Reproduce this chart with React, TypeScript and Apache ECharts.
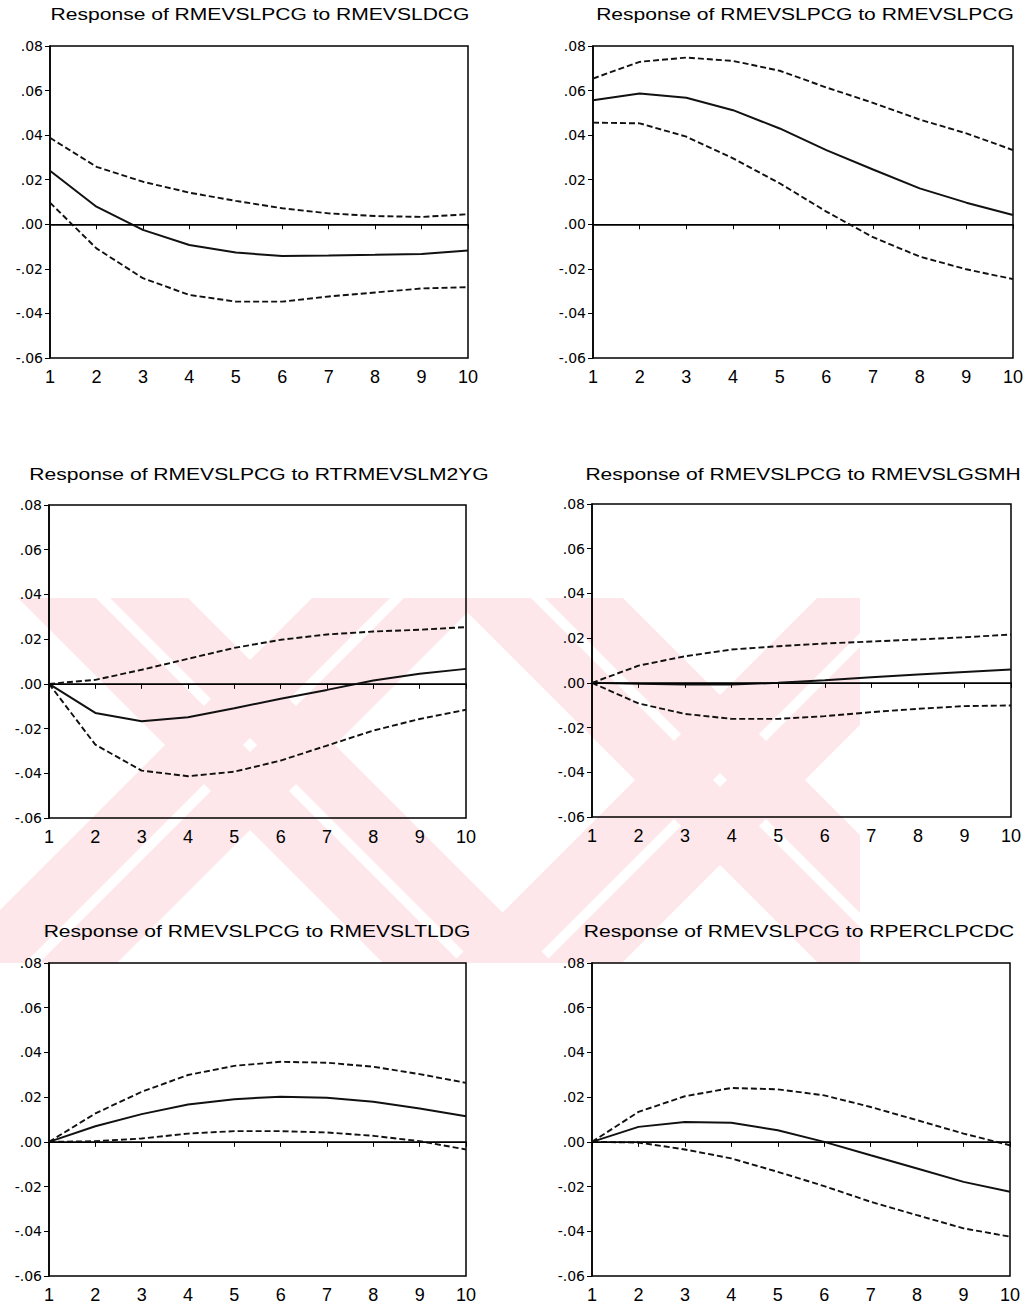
import React, { useEffect, useRef } from "react";
import * as echarts from "echarts";

// ---------- data ----------
const periods = ["1", "2", "3", "4", "5", "6", "7", "8", "9", "10"];
const yTickValues = [-0.06, -0.04, -0.02, 0, 0.02, 0.04, 0.06, 0.08];
const yTickLabels = ["-.06", "-.04", "-.02", ".00", ".02", ".04", ".06", ".08"];

const titles = [
  "Response of RMEVSLPCG to RMEVSLDCG",
  "Response of RMEVSLPCG to RMEVSLPCG",
  "Response of RMEVSLPCG to RTRMEVSLM2YG",
  "Response of RMEVSLPCG to RMEVSLGSMH",
  "Response of RMEVSLPCG to RMEVSLTLDG",
  "Response of RMEVSLPCG to RPERCLPCDC",
];

const respDCG = [0.024, 0.0079, -0.0025, -0.0093, -0.0127, -0.0142, -0.014, -0.0137, -0.0133, -0.0118];
const upperDCG = [0.0388, 0.0258, 0.0191, 0.0142, 0.0105, 0.0072, 0.0049, 0.0037, 0.0033, 0.0045];
const lowerDCG = [0.0097, -0.0108, -0.0242, -0.0317, -0.0347, -0.0347, -0.0324, -0.0306, -0.0288, -0.0282];

const respPCG = [0.0557, 0.0587, 0.0568, 0.0512, 0.043, 0.0333, 0.0246, 0.0161, 0.0097, 0.0042];
const upperPCG = [0.0654, 0.0729, 0.0748, 0.0733, 0.0689, 0.0614, 0.0545, 0.047, 0.0408, 0.0333];
const lowerPCG = [0.0456, 0.0453, 0.0393, 0.0296, 0.0184, 0.0057, -0.0058, -0.0145, -0.0202, -0.0246];

const respM2YG = [0, -0.013, -0.0167, -0.0149, -0.0109, -0.0067, -0.0027, 0.0015, 0.0045, 0.0067];
const upperM2YG = [0, 0.0018, 0.0063, 0.0112, 0.0161, 0.0197, 0.0221, 0.0234, 0.0242, 0.0254];
const lowerM2YG = [0, -0.0272, -0.0388, -0.0413, -0.0393, -0.0343, -0.0276, -0.0209, -0.0157, -0.0116];

const respGSMH = [0, -0.0004, -0.0007, -0.0007, 0, 0.0012, 0.0025, 0.0037, 0.0049, 0.006];
const upperGSMH = [0, 0.0077, 0.0119, 0.0149, 0.0164, 0.0176, 0.0185, 0.0194, 0.0204, 0.0216];
const lowerGSMH = [0, -0.0092, -0.0139, -0.0161, -0.0161, -0.0149, -0.0131, -0.0116, -0.0104, -0.0101];

const respTLDG = [0, 0.007, 0.0124, 0.0167, 0.0191, 0.0202, 0.0197, 0.0179, 0.0149, 0.0115];
const upperTLDG = [0, 0.0127, 0.0224, 0.0299, 0.034, 0.0358, 0.0354, 0.0336, 0.0303, 0.0264];
const lowerTLDG = [0, 0.0003, 0.0015, 0.0037, 0.0048, 0.0048, 0.0042, 0.0027, 0.0003, -0.0034];

const respPCDC = [0, 0.0067, 0.0089, 0.0085, 0.0052, 0.0, -0.006, -0.0119, -0.0179, -0.0223];
const upperPCDC = [0, 0.0134, 0.0204, 0.0241, 0.0235, 0.0208, 0.0156, 0.0097, 0.0037, -0.0015];
const lowerPCDC = [0, -0.0003, -0.0034, -0.0074, -0.0134, -0.0198, -0.0268, -0.0328, -0.0387, -0.0424];

const panels = [
  { resp: respDCG, upper: upperDCG, lower: lowerDCG },
  { resp: respPCG, upper: upperPCG, lower: lowerPCG },
  { resp: respM2YG, upper: upperM2YG, lower: lowerM2YG },
  { resp: respGSMH, upper: upperGSMH, lower: lowerGSMH },
  { resp: respTLDG, upper: upperTLDG, lower: lowerTLDG },
  { resp: respPCDC, upper: upperPCDC, lower: lowerPCDC },
];

// ---------- layout ----------
const grids = [
  { left: 50, top: 46, width: 418, height: 312 },
  { left: 593, top: 46, width: 420, height: 312 },
  { left: 49, top: 505, width: 417, height: 313 },
  { left: 592, top: 504, width: 419, height: 313 },
  { left: 49, top: 963, width: 417, height: 313 },
  { left: 592, top: 963, width: 418, height: 313 },
];
const titlePos = [
  { x: 260, y: 14 },
  { x: 805, y: 14 },
  { x: 259, y: 474 },
  { x: 803, y: 474 },
  { x: 257, y: 931 },
  { x: 799, y: 931 },
];

// light background watermark: striped X shapes (decoration only)
const WM_TOP = 598;
const WM_BOT = 963;
const WM_LEFT = 0;
const WM_RIGHT = 860;
const stripe = (cx: number, cy: number, d: number, w: number, dir: number) => {
  const xAt = (y: number, off: number) => cx + off + dir * (y - cy);
  return [
    [xAt(WM_TOP, d), WM_TOP],
    [xAt(WM_TOP, d + w), WM_TOP],
    [xAt(WM_BOT, d + w), WM_BOT],
    [xAt(WM_BOT, d), WM_BOT],
  ];
};
const clipX = (pts: number[][], xl: number, keepLess: boolean) => {
  const out: number[][] = [];
  const inside = (p: number[]) => (keepLess ? p[0] <= xl : p[0] >= xl);
  for (let i = 0; i < pts.length; i++) {
    const a = pts[i];
    const b = pts[(i + 1) % pts.length];
    const ia = inside(a);
    const ib = inside(b);
    if (ia) out.push(a);
    if (ia !== ib) {
      const t = (xl - a[0]) / (b[0] - a[0]);
      out.push([xl, a[1] + t * (b[1] - a[1])]);
    }
  }
  return out;
};

const yLabel = (v: number) => {
  let best = 0;
  for (let i = 0; i < yTickValues.length; i++) {
    if (Math.abs(yTickValues[i] - v) < Math.abs(yTickValues[best] - v)) best = i;
  }
  return yTickLabels[best];
};

export default function App() {
  const ref = useRef<HTMLDivElement>(null);
  useEffect(() => {
    if (!ref.current) return;
    const chart = echarts.init(ref.current, undefined, { renderer: "svg" });
    const lineColor = "#111";
    const wmColor = "#fde7eb";
    const wm: any[] = [];
    const centers = [
      [250, 745],
      [720, 780],
    ];
    centers.forEach(([cx, cy]) => {
      [-85, 7].forEach((d) => {
        [1, -1].forEach((dir) => {
          let pts = stripe(cx, cy, d, 78, dir);
          pts = clipX(pts, WM_RIGHT, true);
          pts = clipX(pts, WM_LEFT, false);
          if (pts.length >= 3) {
            wm.push({
              type: "polygon",
              z: -10,
              silent: true,
              shape: { points: pts },
              style: { fill: wmColor },
            });
          }
        });
      });
    });
    const option: any = {
      animation: false,
      backgroundColor: "#fff",
      grid: grids.map((g) => ({
        ...g,
        show: true,
        borderColor: "#000",
        borderWidth: 1.5,
        backgroundColor: "transparent",
      })),
      xAxis: grids.map((_, i) => ({
        type: "category",
        gridIndex: i,
        data: periods,
        boundaryGap: false,
        axisLine: { show: true, lineStyle: { color: "#000", width: 1.5 } },
        axisTick: { show: true, length: 5, inside: false, lineStyle: { color: "#000", width: 1 } },
        axisLabel: {
          color: "#000",
          fontSize: 18,
          fontFamily: "'Liberation Sans', Arial, sans-serif",
          margin: 10,
          interval: 0,
        },
        splitLine: { show: false },
      })),
      yAxis: grids.map((_, i) => ({
        type: "value",
        gridIndex: i,
        min: -0.06,
        max: 0.08,
        interval: 0.02,
        axisLine: { show: true, lineStyle: { color: "#000", width: 1.5 } },
        axisTick: { show: true, length: 5, inside: false, lineStyle: { color: "#000", width: 1 } },
        axisLabel: {
          color: "#000",
          fontSize: 14,
          fontFamily: "'DejaVu Sans', sans-serif",
          margin: 7,
          formatter: (v: number) => yLabel(v),
        },
        splitLine: { show: false },
      })),
      graphic: [
        ...wm,
        ...titles.map((t, i) => ({
          type: "text",
          x: titlePos[i].x,
          y: titlePos[i].y,
          scaleX: 1.24,
          z: 100,
          style: {
            text: t,
            fontSize: 17,
            fontFamily: "'Liberation Sans', Arial, sans-serif",
            fill: "#000",
            align: "center",
            verticalAlign: "middle",
          },
        })),
      ],
      series: panels.flatMap((p, i) => [
        {
          type: "line",
          xAxisIndex: i,
          yAxisIndex: i,
          data: p.upper,
          symbol: "none",
          lineStyle: { color: lineColor, width: 1.9, type: [6, 3] },
          silent: true,
        },
        {
          type: "line",
          xAxisIndex: i,
          yAxisIndex: i,
          data: p.lower,
          symbol: "none",
          lineStyle: { color: lineColor, width: 1.9, type: [6, 3] },
          silent: true,
        },
        {
          type: "line",
          xAxisIndex: i,
          yAxisIndex: i,
          data: p.resp,
          symbol: "none",
          lineStyle: { color: lineColor, width: 2, type: "solid" },
          silent: true,
          markLine: {
            silent: true,
            symbol: ["none", "none"],
            label: { show: false },
            lineStyle: { color: "#000", width: 1, type: "solid" },
            data: [{ yAxis: 0 }],
          },
        },
      ]),
    };
    chart.setOption(option);
    return () => chart.dispose();
  }, []);
  return (
    <div
      ref={ref}
      style={{ position: "absolute", left: 0, top: 0, width: 1036, height: 1309 }}
    />
  );
}
